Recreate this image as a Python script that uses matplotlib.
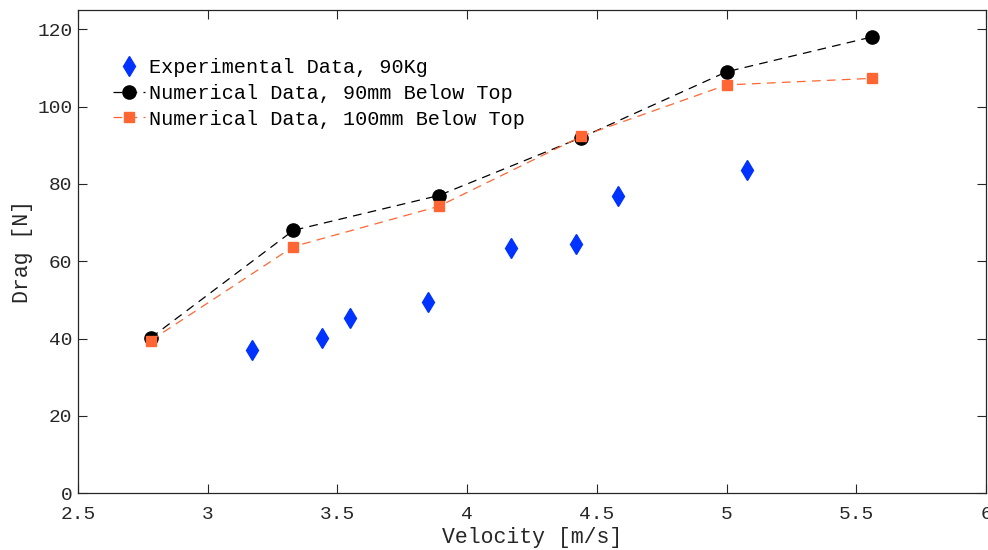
import matplotlib.pyplot as plt

plt.rcParams['font.family'] = ['Liberation Mono', 'DejaVu Sans Mono']

# speeds 10..20 km/h in m/s
vel_num = [2.78, 3.33, 3.89, 4.44, 5.00, 5.56]
drag_90mm = [40.2, 68.0, 77.0, 92.0, 109.0, 118.0]
drag_100mm = [39.5, 63.8, 74.2, 92.3, 105.6, 107.3]

vel_exp = [3.17, 3.44, 3.55, 3.85, 4.17, 4.42, 4.58, 5.08]
drag_exp = [37.1, 40.1, 45.3, 49.5, 63.5, 64.5, 76.8, 83.7]

fig = plt.figure(figsize=(9.88, 5.5), dpi=100)
ax = fig.add_axes([0.079, 0.103, 0.919, 0.879])

ax.plot(vel_exp, drag_exp, linestyle='none', marker='d', color='#0033ff',
        markersize=10, label='Experimental Data, 90Kg')
ax.plot(vel_num, drag_90mm, '--', color='black', lw=0.9, marker='o',
        markersize=9.5, dashes=(7, 5), label='Numerical Data, 90mm Below Top')
ax.plot(vel_num, drag_100mm, '--', color='#ff6633', lw=0.9, marker='s',
        markersize=7.5, dashes=(7, 5), label='Numerical Data, 100mm Below Top')

ax.set_xlim(2.5, 6)
ax.set_ylim(0, 125)
ax.set_xticks([2.5, 3, 3.5, 4, 4.5, 5, 5.5, 6])
ax.set_xticklabels(['2.5', '3', '3.5', '4', '4.5', '5', '5.5', '6'])
ax.set_yticks([0, 20, 40, 60, 80, 100, 120])

ax.tick_params(direction='in', top=True, right=True, length=6.5, width=0.8,
               labelsize=14, colors='#262626')
ax.tick_params(axis='x', pad=9)
ax.tick_params(axis='y', pad=4)
for s in ax.spines.values():
    s.set_color('#262626')
    s.set_linewidth(0.9)

ax.set_xlabel('Velocity [m/s]', fontsize=15.5, color='#262626', labelpad=3)
ax.set_ylabel('Drag [N]', fontsize=15.5, color='#262626', labelpad=3)

ax.legend(loc='upper left', bbox_to_anchor=(0.038, 0.9), frameon=False,
          fontsize=14.5, handlelength=1.6, handletextpad=0.2, labelspacing=0.33,
          borderaxespad=0, borderpad=0)

fig.savefig('out.png', dpi=100)
